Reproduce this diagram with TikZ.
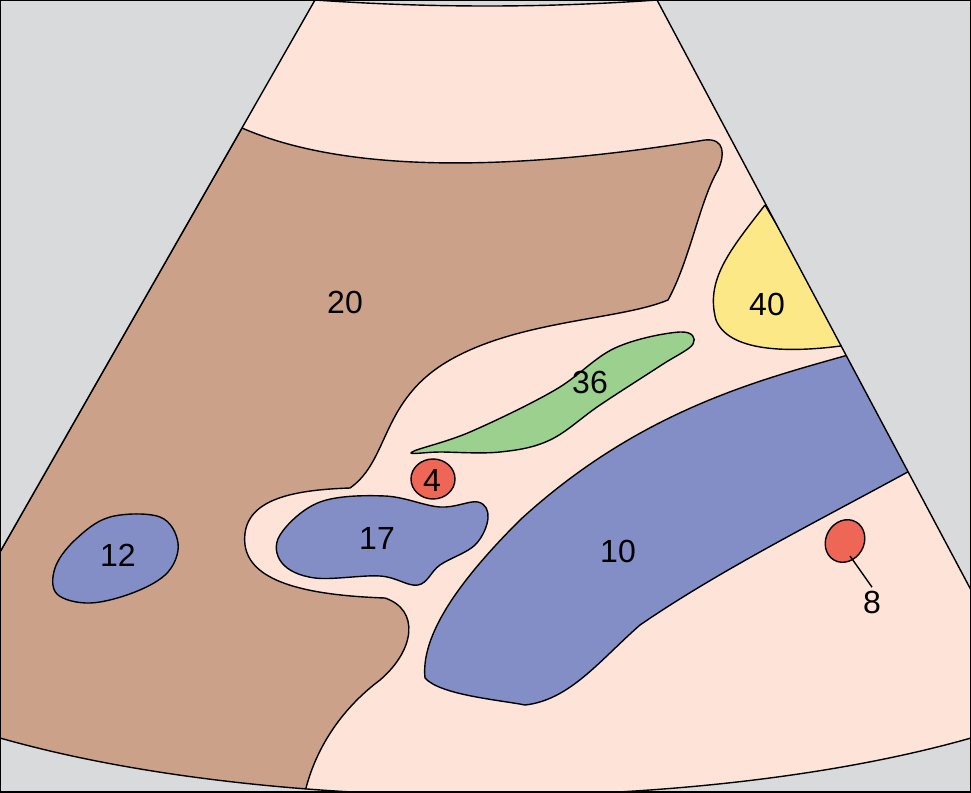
\documentclass[tikz,border=0pt]{standalone}
\usepackage{fontspec}
\setmainfont{Liberation Sans}
\definecolor{bggray}{HTML}{D9DADC}
\definecolor{skin}{HTML}{FDE3D8}
\definecolor{liver}{HTML}{CBA18A}
\definecolor{vein}{HTML}{838DC6}
\definecolor{gall}{HTML}{FDE887}
\definecolor{duct}{HTML}{9BD08F}
\definecolor{artery}{HTML}{EE6656}
\tikzset{organ/.style={draw=black, line width=1.4pt},
  lbl/.style={font=\fontsize{32pt}{32pt}\selectfont}}
\begin{document}
\begin{tikzpicture}[x=1pt,y=-1pt]
\useasboundingbox (0,0) rectangle (971,792);
\fill[bggray] (0,0) rectangle (971,792);
% fan
\begin{scope}
\clip (315,0) .. controls (430,8) and (545,8) .. (657,0) -- (971,590) -- (971,738)
  .. controls (700,815) and (270,815) .. (0,738) -- (0,552) -- cycle;
\fill[skin] (0,0) rectangle (971,792);
\draw[organ,fill=liver] (242,128) .. controls (350,175) and (520,170) .. (705,140)
  .. controls (725,138) and (725,155) .. (718,170) .. controls (700,200) and (690,260) .. (668,300)
  .. controls (620,320) and (520,320) .. (450,360) .. controls (380,400) and (390,460) .. (350,488)
  .. controls (290,490) and (240,500) .. (245,545) .. controls (250,580) and (300,595) .. (385,598)
  .. controls (420,610) and (415,650) .. (380,680) .. controls (340,710) and (315,750) .. (305,792)
  -- (0,792) -- (0,552) -- cycle;
\draw[organ,fill=gall] (765,205) -- (848,345) .. controls (800,352) and (730,355) .. (716,320)
  .. controls (705,280) and (730,250) .. (765,205);
\draw[organ,fill=vein] (915,468) -- (848,355) .. controls (760,380) and (640,410) .. (520,520)
  .. controls (470,570) and (420,630) .. (425,678) .. controls (440,695) and (500,700) .. (525,705)
  .. controls (570,700) and (600,660) .. (640,625) .. controls (720,570) and (820,520) .. (915,468);
\draw[organ,fill=duct] plot[smooth cycle,tension=0.6] coordinates {(412,452) (470,432) (555,390)
  (615,348) (680,332) (693,344) (660,366) (600,405) (550,440) (500,452) (440,452)};
\draw[organ,fill=vein] plot[smooth cycle,tension=0.6] coordinates {(280,535) (320,502) (385,496)
  (440,507) (478,502) (488,518) (475,545) (440,565) (418,585) (380,576) (315,578) (282,563)};
\draw[organ,fill=vein] plot[smooth cycle,tension=0.6] coordinates {(55,568) (75,540) (110,517)
  (160,517) (178,543) (168,572) (135,592) (90,603) (57,594)};
\draw[organ,fill=artery] (433,479) ellipse [x radius=22, y radius=20];
\draw[organ,fill=artery,rotate around={-30:(845,541)}] (845,541) ellipse [x radius=19, y radius=22];
\end{scope}
\draw[line width=1.4pt] (315,0) .. controls (430,8) and (545,8) .. (657,0);
\draw[line width=1.4pt] (315,0) -- (0,552);
\draw[line width=1.4pt] (657,0) -- (971,590);
\draw[line width=1.4pt] (971,738) .. controls (700,815) and (270,815) .. (0,738);
\draw[line width=1.6pt] (0,0) rectangle (971,792);
% labels
\node[lbl] (n20) at (345,302) {20};
\node[lbl] (n40) at (767,304) {40};
\node[lbl] (n36) at (590,382) {36};
\node[lbl] (n4) at (432,480) {4};
\node[lbl] (n17) at (377,538) {17};
\node[lbl] (n12) at (118,555) {12};
\node[lbl] (n10) at (618,551) {10};
\node[lbl] (n8) at (872,602) {8};
\coordinate (p8) at (850,556);
\draw[line width=1.4pt] (p8) -- (n8.north);
\end{tikzpicture}
\end{document}
